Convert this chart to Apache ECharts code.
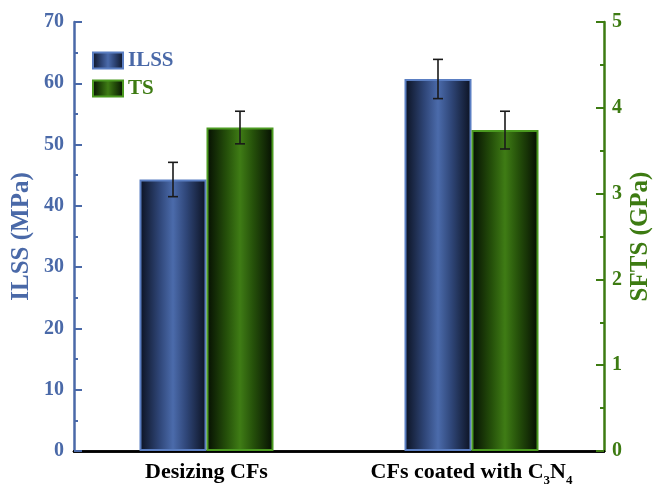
<!DOCTYPE html>
<html>
<head>
<meta charset="utf-8">
<script src="https://cdn.jsdelivr.net/npm/echarts@6/dist/echarts.min.js"></script>
<style>
  html, body { margin: 0; padding: 0; background: #fff; }
  #chart { width: 656px; height: 485px; }
</style>
</head>
<body>
<div id="chart"></div>
<script>
// Sample groups on the x axis
const categories = ['Desizing CFs', 'CFs coated with C3N4'];
// Interlaminar shear strength (MPa) and its standard deviation
const ilssValues = [44.3, 60.7];
const ilssErrors = [2.8, 3.2];
// Single-fibre tensile strength (GPa) and its standard deviation
const tsValues = [3.77, 3.74];
const tsErrors = [0.19, 0.22];
// Axis ranges
const ilssAxis = { min: 0, max: 70, interval: 10 };
const tsAxis = { min: 0, max: 5, interval: 1 };

const BLUE = '#4a69a8';
const GREEN = '#3d7b12';
const FONT = '"Liberation Serif", "Times New Roman", serif';
const BAR_WIDTH = 67;

function barGradient(edge, mid, center) {
  return new echarts.graphic.LinearGradient(0, 0, 1, 0, [
    { offset: 0, color: edge },
    { offset: 0.3, color: mid },
    { offset: 0.5, color: center },
    { offset: 0.7, color: mid },
    { offset: 1, color: edge }
  ]);
}

// Error bars drawn at the centre of each bar (left bar or right bar in a group)
function errorBarRenderer(values, errors, side) {
  return function (params, api) {
    const i = params.dataIndex;
    const v = values[i], e = errors[i];
    const top = api.coord([i, v + e]);
    const bot = api.coord([i, v - e]);
    const x = top[0] + side * BAR_WIDTH / 2;
    const cap = 5;
    const style = { stroke: '#1a1a1a', lineWidth: 1.6 };
    return {
      type: 'group',
      children: [
        { type: 'line', shape: { x1: x, y1: top[1], x2: x, y2: bot[1] }, style },
        { type: 'line', shape: { x1: x - cap, y1: top[1], x2: x + cap, y2: top[1] }, style },
        { type: 'line', shape: { x1: x - cap, y1: bot[1], x2: x + cap, y2: bot[1] }, style }
      ]
    };
  };
}

const chart = echarts.init(document.getElementById('chart'), null, { renderer: 'canvas' });

const blueFill = barGradient('#0b1120', '#2f4678', '#4b6bab');
const greenFill = barGradient('#050d02', '#25500a', '#3f7c15');

chart.setOption({
  animation: false,
  backgroundColor: '#fff',
  textStyle: { fontFamily: FONT },
  grid: { left: 74, right: 52, top: 22, bottom: 34, containLabel: false, outerBoundsMode: 'none' },
  legend: {
    orient: 'vertical',
    left: 87,
    top: 45,
    icon: 'rect',
    itemWidth: 30,
    itemHeight: 16,
    itemGap: 7,
    textStyle: { fontFamily: FONT, fontWeight: 'bold', fontSize: 21 },
    data: [
      { name: 'ILSS', textStyle: { color: BLUE } },
      { name: 'TS', textStyle: { color: GREEN } }
    ]
  },
  xAxis: [
    {
      type: 'category',
      data: categories,
      position: 'bottom',
      axisLine: { lineStyle: { color: '#000', width: 2.5 } },
      axisTick: { show: false },
      axisLabel: {
        interval: 0,
        hideOverlap: false,
        margin: 10,
        fontFamily: FONT,
        fontWeight: 'bold',
        fontSize: 22,
        color: '#000',
        formatter: function (v) {
          return v.replace('C3N4', '{n|C}{s|3}{n|N}{s|4}');
        },
        rich: {
          n: { fontFamily: FONT, fontWeight: 'bold', fontSize: 22, color: '#000' },
          s: { fontFamily: FONT, fontWeight: 'bold', fontSize: 13, color: '#000', verticalAlign: 'bottom', padding: [0, 0, -4, 0] }
        }
      }
    },
    {
      type: 'category',
      data: categories,
      position: 'top',
      axisLine: { lineStyle: { color: '#000', width: 2.5 } },
      axisTick: { show: false },
      axisLabel: { show: false }
    }
  ],
  yAxis: [
    {
      type: 'value',
      position: 'left',
      min: ilssAxis.min, max: ilssAxis.max, interval: ilssAxis.interval,
      name: 'ILSS (MPa)',
      nameLocation: 'middle',
      nameGap: 40,
      nameMoveOverlap: false,
      nameTextStyle: { fontFamily: FONT, fontWeight: 'bold', fontSize: 25, color: BLUE },
      axisLine: { show: true, lineStyle: { color: BLUE, width: 2.5 } },
      axisTick: { show: true, inside: true, length: 8, lineStyle: { color: BLUE, width: 2 } },
      minorTick: { show: true, splitNumber: 2, length: 4, lineStyle: { color: BLUE, width: 2 } },
      splitLine: { show: false },
      axisLabel: { margin: 10, fontFamily: FONT, fontWeight: 'bold', fontSize: 20, color: BLUE }
    },
    {
      type: 'value',
      position: 'right',
      min: tsAxis.min, max: tsAxis.max, interval: tsAxis.interval,
      name: 'SFTS (GPa)',
      nameLocation: 'middle',
      nameGap: 24,
      nameRotate: 90,
      nameMoveOverlap: false,
      nameTextStyle: { fontFamily: FONT, fontWeight: 'bold', fontSize: 25, color: GREEN },
      axisLine: { show: true, lineStyle: { color: GREEN, width: 2.5 } },
      axisTick: { show: true, inside: true, length: 8, lineStyle: { color: GREEN, width: 2 } },
      minorTick: { show: true, splitNumber: 2, length: 4, lineStyle: { color: GREEN, width: 2 } },
      splitLine: { show: false },
      axisLabel: { margin: 8, fontFamily: FONT, fontWeight: 'bold', fontSize: 20, color: GREEN }
    }
  ],
  series: [
    {
      name: 'ILSS',
      type: 'bar',
      yAxisIndex: 0,
      barWidth: BAR_WIDTH,
      barGap: '0%',
      data: ilssValues,
      itemStyle: { color: blueFill, borderColor: '#5a7ec2', borderWidth: 2 }
    },
    {
      name: 'TS',
      type: 'bar',
      yAxisIndex: 1,
      barWidth: BAR_WIDTH,
      barGap: '0%',
      data: tsValues,
      itemStyle: { color: greenFill, borderColor: '#4b9a20', borderWidth: 2 }
    },
    {
      name: 'ILSS error',
      type: 'custom',
      yAxisIndex: 0,
      data: ilssValues,
      z: 5,
      silent: true,
      renderItem: errorBarRenderer(ilssValues, ilssErrors, -1)
    },
    {
      name: 'TS error',
      type: 'custom',
      yAxisIndex: 1,
      data: tsValues,
      z: 5,
      silent: true,
      renderItem: errorBarRenderer(tsValues, tsErrors, 1)
    }
  ]
});
</script>
</body>
</html>
